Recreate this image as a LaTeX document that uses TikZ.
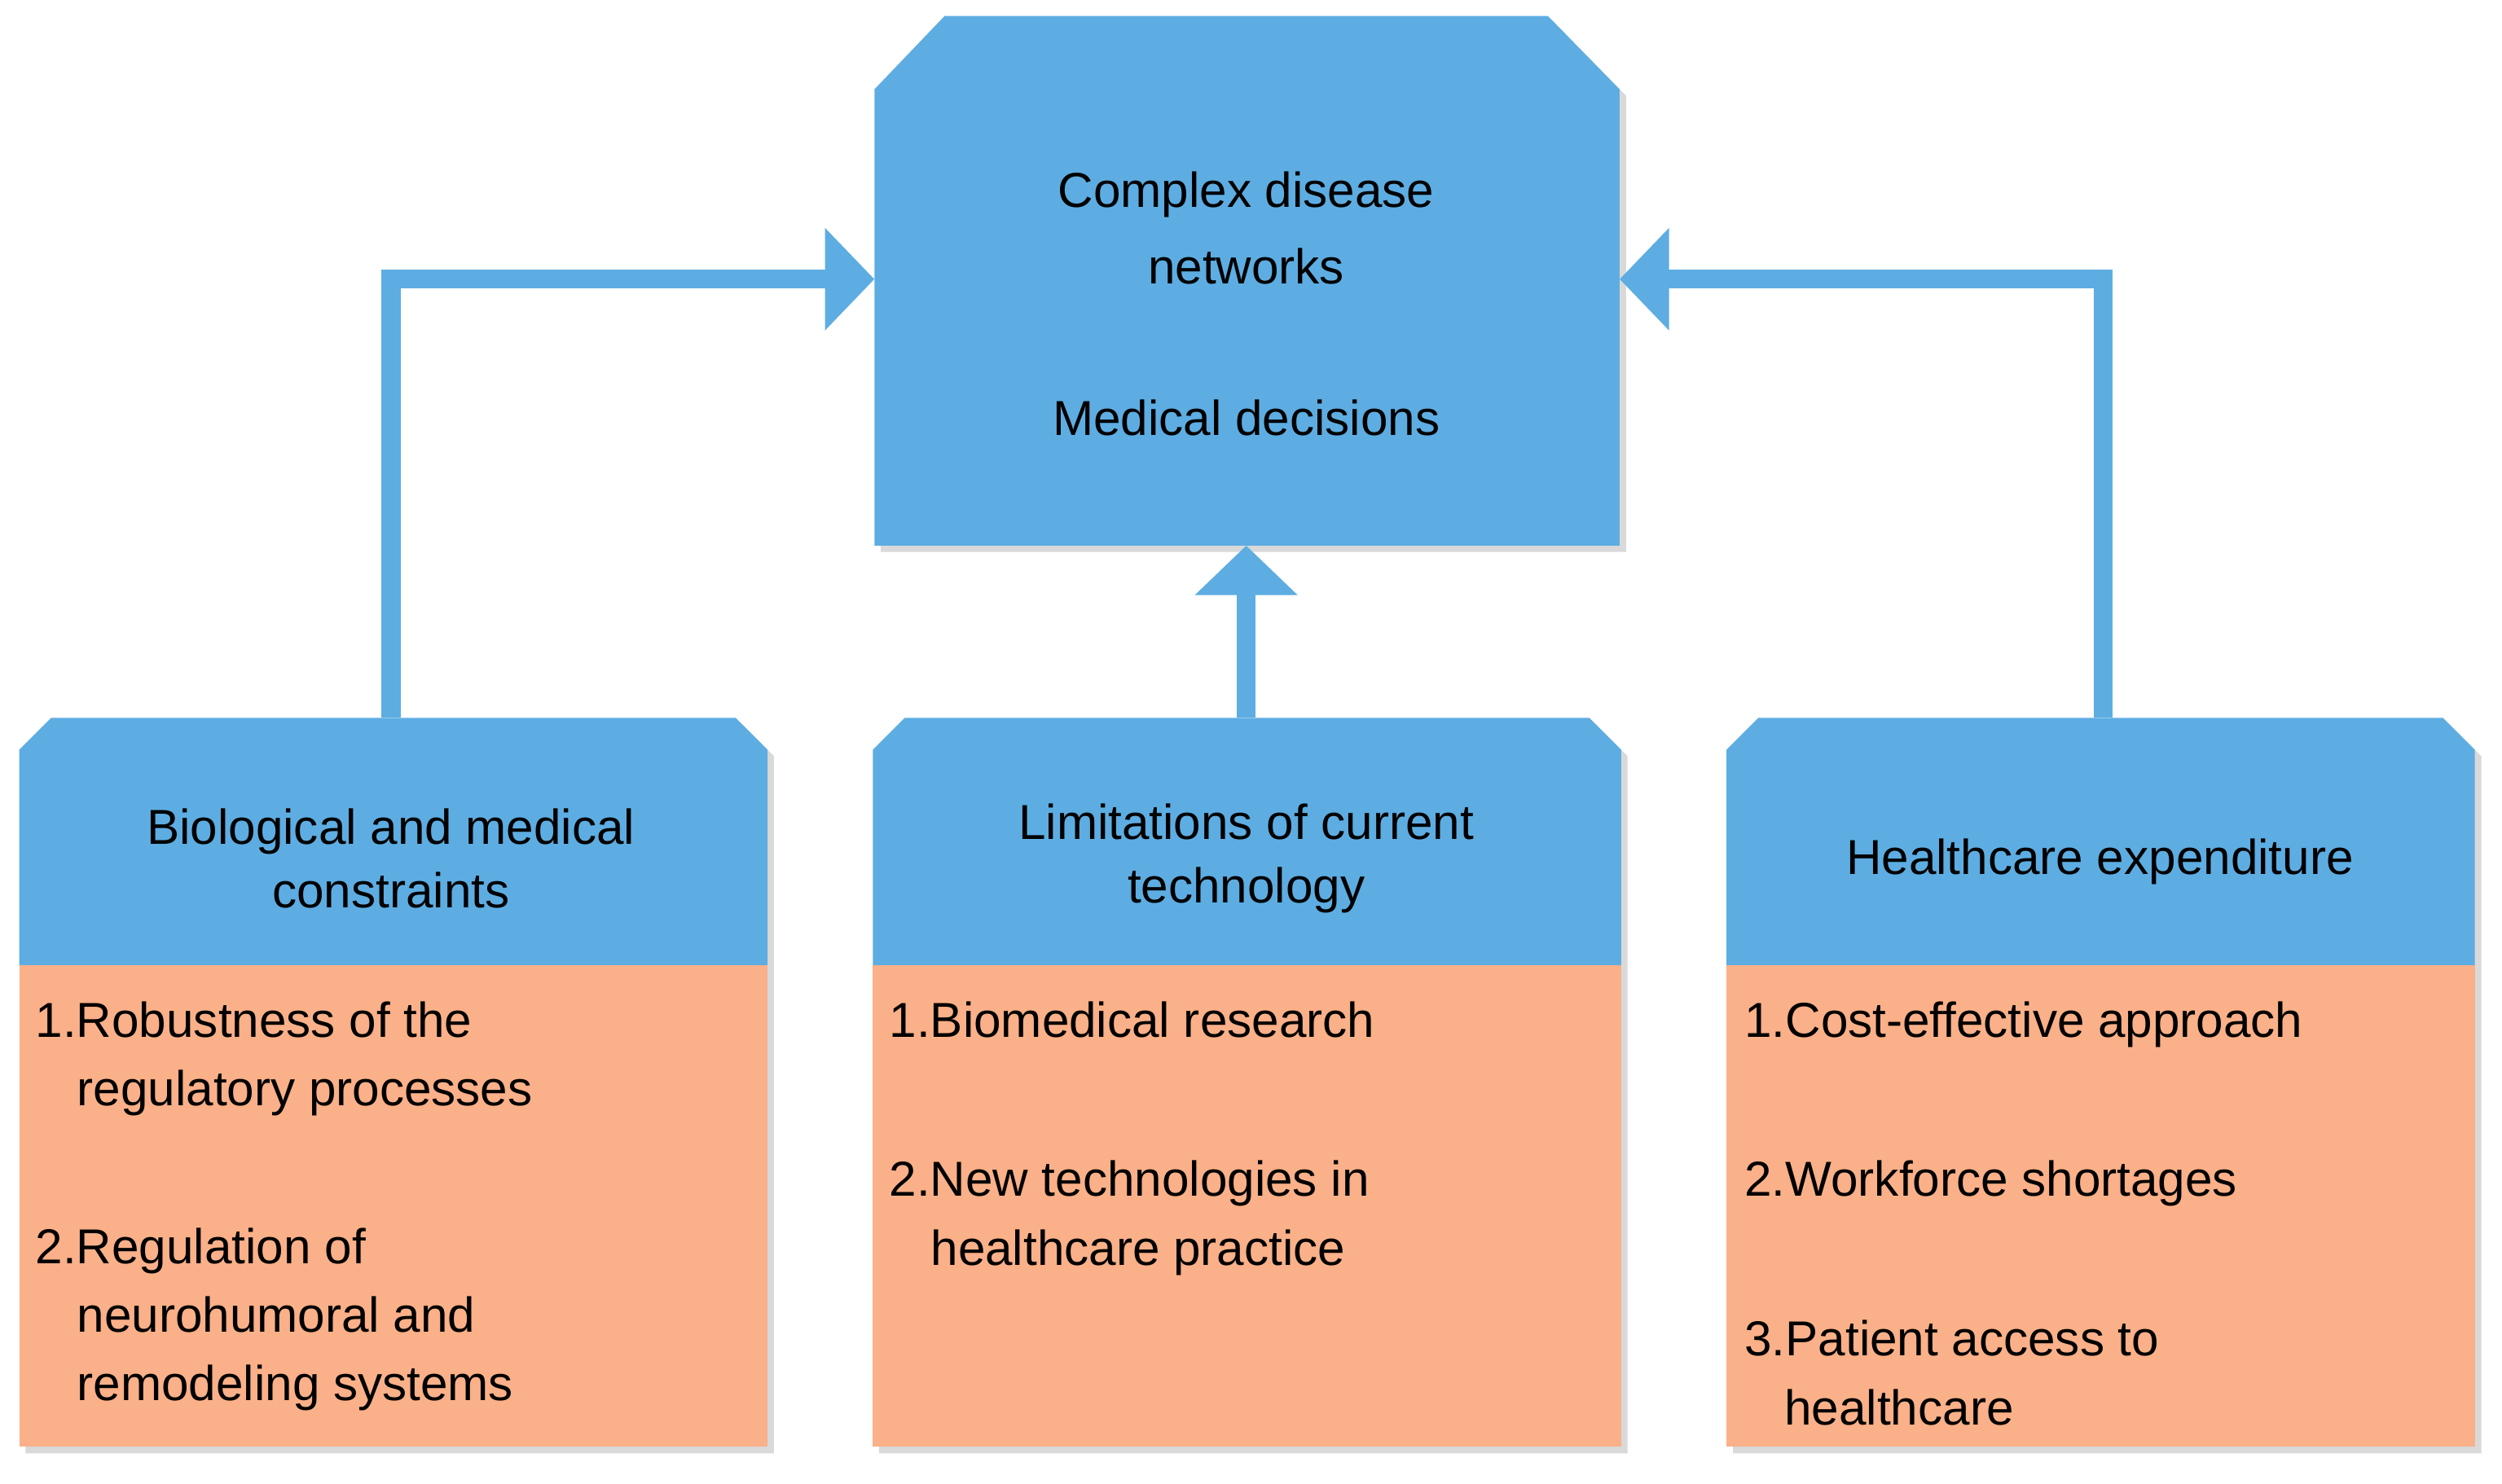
\documentclass[tikz,border=0pt]{standalone}
\usepackage{fontspec}
\setmainfont{Liberation Sans}
\usetikzlibrary{arrows.meta}
\definecolor{bl}{RGB}{93,173,226}
\definecolor{orr}{RGB}{250,176,136}
\begin{document}
\begin{tikzpicture}[x=0.02cm,y=-0.02cm,
  txt/.style={font=\fontsize{17.5}{21}\selectfont, inner sep=0pt, align=center},
  itm/.style={font=\fontsize{17.5}{21}\selectfont, inner sep=0pt, anchor=base west},
  conn/.style={draw=bl, line width=6.8pt, -{Triangle[length=0.62cm,width=1.25cm]}},
  shad/.style={fill=black!25, opacity=0.6}]
\useasboundingbox (0,0) rectangle (1568,930);
% top box
\fill[shad] (552,60) -- (596,14) -- (974,14) -- (1019,60) -- (1019,346) -- (552,346) -- cycle;
\fill[bl] (548,56) -- (592,10) -- (970,10) -- (1015,56) -- (1015,342) -- (548,342) -- cycle;
\coordinate (topL) at (548,175); \coordinate (topR) at (1015,175); \coordinate (topB) at (781,342);
\node[txt] (t1) at (781,143) {Complex disease\\[0.35em]networks};
\node[txt] (t2) at (781,262) {Medical decisions};
% bottom boxes
\foreach \x/\n in {12/a,547/b,1082/c}{
  \fill[shad] (\x+4,474) -- (\x+24,454) -- (\x+453,454) -- (\x+473,474) -- (\x+473,911) -- (\x+4,911) -- cycle;
  \fill[orr] (\x,605) rectangle (\x+469,907);
  \fill[bl] (\x,470) -- (\x+20,450) -- (\x+449,450) -- (\x+469,470) -- (\x+469,605) -- (\x,605) -- cycle;
}
\coordinate (aT) at (245,450); \coordinate (bT) at (781,450); \coordinate (cT) at (1318,450);
\node[txt] (h1) at (245,538) {Biological and medical\\[0.1em]constraints};
\node[txt] (h2) at (781,538) {Limitations of current\\[0.1em]technology};
\node[txt] (h3) at (1316,540) {Healthcare expenditure};
\node[itm] (a1) at (22,650) {1.Robustness of the};
\node[itm] (a2) at (48,693) {regulatory processes};
\node[itm] (a3) at (22,792) {2.Regulation of};
\node[itm] (a4) at (48,835) {neurohumoral and};
\node[itm] (a5) at (48,878) {remodeling systems};
\node[itm] (b1) at (557,650) {1.Biomedical research};
\node[itm] (b2) at (557,750) {2.New technologies in};
\node[itm] (b3) at (583,793) {healthcare practice};
\node[itm] (c1) at (1093,650) {1.Cost-effective approach};
\node[itm] (c2) at (1093,750) {2.Workforce shortages};
\node[itm] (c3) at (1093,850) {3.Patient access to};
\node[itm] (c4) at (1118,893) {healthcare};
% connectors
\draw[conn] (aT) |- (topL);
\draw[conn] (cT) |- (topR);
\draw[conn] (bT) -- (topB);
\end{tikzpicture}
\end{document}
